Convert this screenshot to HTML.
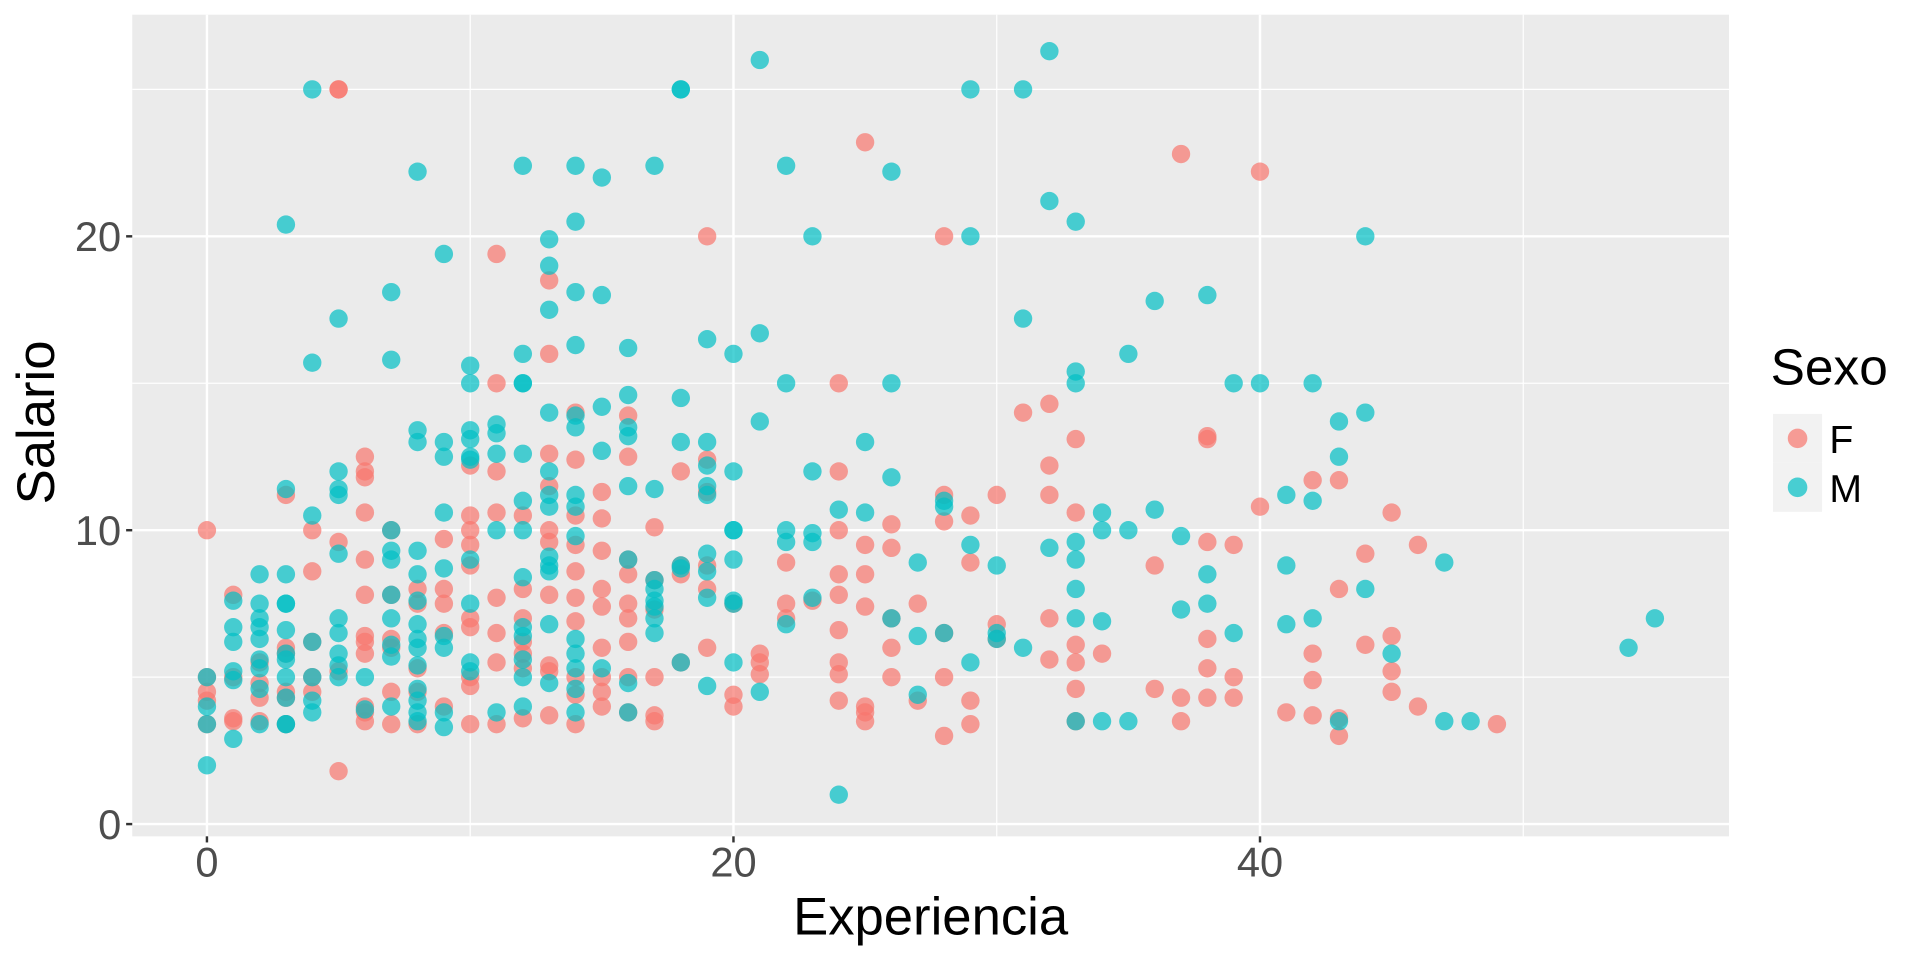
<!DOCTYPE html>
<html><head><meta charset="utf-8"><style>
html,body{margin:0;padding:0;background:#fff;}
svg{display:block;font-family:"Liberation Sans",sans-serif;}
</style></head><body>
<svg id="s" width="1920" height="960" viewBox="0 0 1568 784" xmlns="http://www.w3.org/2000/svg">
<rect x="0" y="0" width="1568" height="784" fill="#fff"/>
<rect x="108" y="12" width="1304" height="671" fill="#EBEBEB"/>
<g stroke="#fff" stroke-width="1">
<line x1="108" x2="1412" y1="553" y2="553"/><line x1="108" x2="1412" y1="313" y2="313"/><line x1="108" x2="1412" y1="73" y2="73"/>
<line y1="12" y2="683" x1="384" x2="384"/><line y1="12" y2="683" x1="814" x2="814"/><line y1="12" y2="683" x1="1244" x2="1244"/>
</g>
<g stroke="#fff" stroke-width="2">
<line x1="108" x2="1412" y1="673" y2="673"/><line x1="108" x2="1412" y1="433" y2="433"/><line x1="108" x2="1412" y1="193" y2="193"/>
<line y1="12" y2="683" x1="169" x2="169"/><line y1="12" y2="683" x1="599" x2="599"/><line y1="12" y2="683" x1="1029" x2="1029"/>
</g>
<g id="pts"></g>
<g stroke="#333" stroke-width="2">
<line x1="103" x2="108" y1="673" y2="673"/><line x1="103" x2="108" y1="433" y2="433"/><line x1="103" x2="108" y1="193" y2="193"/>
<line y1="683" y2="688" x1="169" x2="169"/><line y1="683" y2="688" x1="599" x2="599"/><line y1="683" y2="688" x1="1029" x2="1029"/>
</g>
<g fill="#4D4D4D" font-size="34" text-anchor="end">
<text x="99" y="685">0</text><text x="99" y="445">10</text><text x="99" y="205">20</text>
</g>
<g fill="#4D4D4D" font-size="34" text-anchor="middle">
<text x="169" y="716">0</text><text x="599" y="716">20</text><text x="1029" y="716">40</text>
</g>
<text x="760" y="763" font-size="43" text-anchor="middle" fill="#000">Experiencia</text>
<text transform="translate(44,345) rotate(-90)" font-size="43" text-anchor="middle" fill="#000">Salario</text>
<text x="1446" y="314" font-size="42" fill="#000">Sexo</text>
<rect x="1448" y="338" width="40" height="40" fill="#F2F2F2"/>
<rect x="1448" y="378" width="40" height="40" fill="#F2F2F2"/>
<circle cx="1468" cy="358" r="8" fill="#F8766D" fill-opacity="0.7"/>
<circle cx="1468" cy="398" r="8" fill="#00BFC4" fill-opacity="0.7"/>
<text x="1494" y="370" font-size="32" fill="#000">F</text>
<text x="1494" y="410" font-size="32" fill="#000">M</text>
</svg>
<script>
var F={0:[10,5,4.5,4.2,3.4],1:[7.8,5,3.5,3.6],2:[5.5,4.3,3.5,4.8],3:[11.2,6,5.8,4.5,4.3,3.4],4:[10,8.6,6.2,5,4.5],5:[25,25,9.6,1.8,5.2],6:[12.5,12,11.8,10.6,9,7.8,6.4,6.2,5.8,4,3.8,3.5],7:[10,7.8,6.3,6,4.5,3.4],8:[8,7.5,5.3,4.5,3.4],9:[9.7,8,7.5,4,6.5],10:[12.2,10.5,10,9.5,8.8,7,6.7,4.7,3.4,5],11:[19.4,15,12,10.6,7.7,6.5,5.5,3.4],12:[10.5,8,7,6.2,5.8,5.3,3.6],13:[18.5,16,12.6,11.5,10,9.6,7.8,5.4,5.2,3.7],14:[14,12.4,10.5,9.5,8.6,7.7,6.9,5,4.4,3.4],15:[11.3,10.4,9.3,8,7.4,6,5,4.5,4],16:[13.9,12.5,9,8.5,7.5,7,6.2,5,3.8],17:[10.1,8.3,7.3,5,3.7,3.5],18:[12,8.8,8.5,5.5],19:[20,12.4,11.3,8,6,8.8],20:[7.5,4.4,4],21:[5.8,5.5,5.1],22:[8.9,7.5,7],23:[7.6],24:[15,12,10,8.5,7.8,6.6,5.5,5.1,4.2],25:[23.2,9.5,8.5,7.4,4,3.8,3.5],26:[10.2,9.4,7,6,5],27:[7.5,4.2],28:[20,11.2,10.3,6.5,5,3],29:[10.5,8.9,4.2,3.4],30:[11.2,6.8,6.3],31:[14],32:[14.3,12.2,11.2,7,5.6],33:[13.1,10.6,6.1,5.5,4.6,3.5],34:[5.8],36:[8.8,4.6],37:[22.8,4.3,3.5],38:[13.2,13.1,9.6,6.3,5.3,4.3],39:[9.5,5,4.3],40:[22.2,10.8],41:[3.8],42:[11.7,5.8,4.9,3.7],43:[11.7,8,3.6,3],44:[9.2,6.1],45:[10.6,6.4,5.2,4.5],46:[9.5,4],49:[3.4]};
var M={0:[5,4,3.4,2],1:[7.6,6.7,6.2,5.2,4.9,2.9],2:[8.5,7.5,7,6.7,6.3,5.6,5.3,4.6,3.4],3:[20.4,11.4,8.5,7.5,7.5,6.6,5.8,5.6,5,4.3,3.4,3.4],4:[25,15.7,10.5,6.2,5,4.2,3.8],5:[17.2,12,11.4,11.2,9.2,7,6.5,5.8,5,5.4],6:[5,3.9],7:[18.1,15.8,10,9.3,9,7.8,7,6.1,5.7,4],8:[22.2,13.4,13,9.3,8.5,7.6,6.8,6.3,6,5.4,4.6,4.2,3.8,3.5],9:[19.4,13,12.5,10.6,8.7,6.4,6,3.8,3.3],10:[15.6,15,13.4,13.1,12.5,12.4,9,7.5,5.5,5.2],11:[13.6,13.3,12.6,10,3.8],12:[22.4,16,15,15,12.6,11,10,8.4,6.7,6.4,5.6,5,4],13:[19.9,19,17.5,14,12,11.2,10.8,9.1,8.8,8.6,6.8,4.8],14:[22.4,20.5,18.1,16.3,13.5,13.9,11.2,10.8,9.8,6.3,5.8,5.3,4.6,3.8],15:[22,18,14.2,12.7,5.3],16:[16.2,14.6,13.5,13.2,11.5,9,4.8,3.8],17:[22.4,11.4,8.3,8,7.6,7.4,7,6.5],18:[25,25,14.5,13,8.8,8.7,5.5],19:[16.5,13,12.2,11.5,11.2,9.2,8.6,7.7,4.7],20:[16,12,10,10,9,7.6,7.5,5.5],21:[26,16.7,13.7,4.5],22:[22.4,15,10,9.6,6.8],23:[20,12,9.9,9.6,7.7],24:[10.7,1],25:[13,10.6],26:[22.2,15,11.8,7],27:[8.9,6.4,4.4],28:[11,10.8,6.5],29:[25,20,9.5,5.5],30:[8.8,6.5,6.3],31:[25,17.2,6],32:[26.3,21.2,9.4],33:[20.5,15.4,15,9.6,9,8,7,3.5],34:[10.6,10,6.9,3.5],35:[16,10,3.5],36:[17.8,10.7],37:[9.8,7.3],38:[18,8.5,7.5],39:[15,6.5],40:[15],41:[11.2,8.8,6.8],42:[15,11,7],43:[13.7,12.5,3.5],44:[20,14,8],45:[5.8],47:[8.9,3.5],48:[3.5],54:[6],55:[7]};
var g=document.getElementById('pts'),h="";
function add(d,c){for(var k in d){d[k].forEach(function(v){h+='<circle cx="'+(169+21.5*k).toFixed(1)+'" cy="'+(673-24*v).toFixed(1)+'" r="7.5" fill="'+c+'" fill-opacity="0.7"/>';});}}
add(F,"#F8766D");add(M,"#00BFC4");
g.innerHTML=h;
</script>
</body></html>
